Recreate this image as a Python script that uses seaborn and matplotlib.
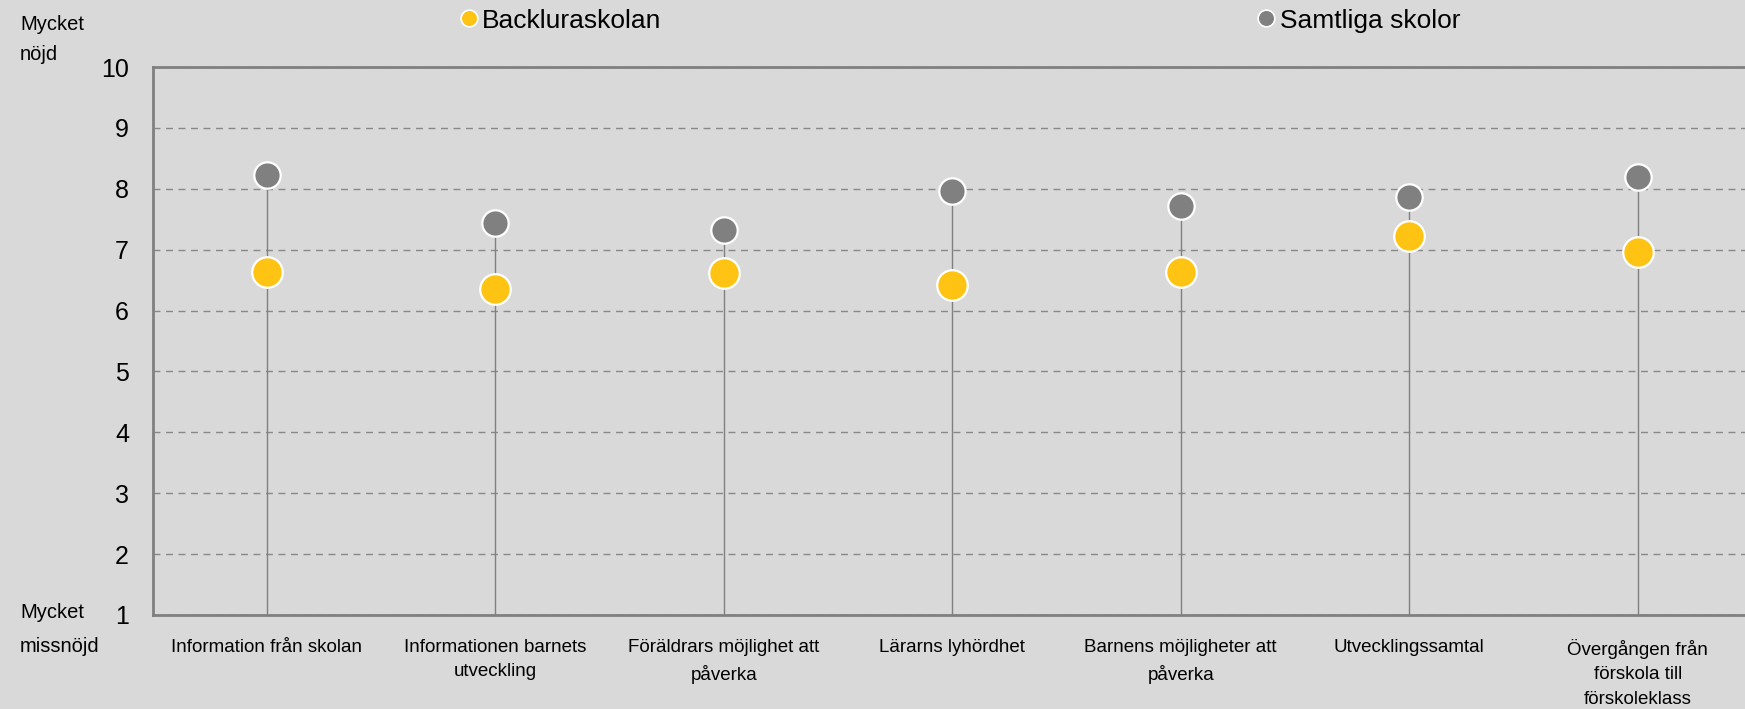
import pandas as pd
import seaborn as sns
import matplotlib.pyplot as plt
from matplotlib.lines import Line2D

# Data
categories = [
    "Information från skolan",
    "Informationen barnets\nutveckling",
    "Föräldrars möjlighet att\npåverka",
    "Lärarns lyhördhet",
    "Barnens möjligheter att\npåverka",
    "Utvecklingssamtal",
    "Övergången från\nförskola till\nförskoleklass",
]
backluraskolan = [6.64, 6.35, 6.61, 6.42, 6.64, 7.22, 6.96]
samtliga_skolor = [8.22, 7.43, 7.32, 7.97, 7.72, 7.86, 8.19]
y_ticks = [1, 2, 3, 4, 5, 6, 7, 8, 9, 10]

BG = "#d9d9d9"
YELLOW = "#ffc314"
GRAY = "#808080"

sns.set_theme(style="white")
plt.rcParams['font.family'] = ['Liberation Sans', 'DejaVu Sans']
plt.rcParams['text.color'] = 'black'

df = pd.DataFrame({
    "pos": list(range(len(categories))) * 2,
    "value": backluraskolan + samtliga_skolor,
    "serie": ["Backluraskolan"] * len(categories) + ["Samtliga skolor"] * len(categories),
})

fig = plt.figure(figsize=(17.45, 7.09), dpi=100, facecolor=BG)
ax = fig.add_axes([0.0874, 0.1326, 0.9166, 0.7729])
ax.set_facecolor(BG)

# stems from the bottom up to the "all schools" point
ax.vlines(range(len(categories)), 1, samtliga_skolor, color=GRAY, lw=1, zorder=2)

sns.scatterplot(data=df[df.serie == "Samtliga skolor"], x="pos", y="value",
                color=GRAY, s=19 ** 2, edgecolor="white", linewidth=1.6,
                zorder=3, ax=ax, legend=False)
sns.scatterplot(data=df[df.serie == "Backluraskolan"], x="pos", y="value",
                color=YELLOW, s=22 ** 2, edgecolor="white", linewidth=1.6,
                zorder=4, ax=ax, legend=False)

ax.set_xlim(-0.5, len(categories) - 0.5)
ax.set_ylim(1, 10)
ax.set_yticks(y_ticks)
ax.set_yticklabels([str(t) for t in y_ticks], fontsize=18)
ax.set_xticks(range(len(categories)))
ax.set_xticklabels(categories, fontsize=13.5, linespacing=1.6)
ax.tick_params(axis="y", length=0, pad=17, colors="black")
ax.tick_params(axis="x", length=0, pad=17, colors="black")
ax.set_xlabel("")
ax.set_ylabel("")

ax.yaxis.grid(True, color="#888888", linestyle=(0, (5, 4)), lw=1)
ax.set_axisbelow(True)
for side in ["left", "top", "bottom"]:
    ax.spines[side].set_color(GRAY)
    ax.spines[side].set_linewidth(2)
ax.spines["right"].set_visible(False)

fig.text(0.0115, 0.965, "Mycket", fontsize=14.5, va="center", ha="left")
fig.text(0.0115, 0.923, "nöjd", fontsize=14.5, va="center", ha="left")
fig.text(0.0115, 0.136, "Mycket", fontsize=14.5, va="center", ha="left")
fig.text(0.0115, 0.088, "missnöjd", fontsize=14.5, va="center", ha="left")

h1 = Line2D([], [], ls="", marker="o", markersize=12, markerfacecolor=YELLOW,
            markeredgecolor="white", markeredgewidth=1.2)
h2 = Line2D([], [], ls="", marker="o", markersize=12, markerfacecolor=GRAY,
            markeredgecolor="white", markeredgewidth=1.2)
fig.legend([h1], ["Backluraskolan"], loc="center left", bbox_to_anchor=(0.2545, 0.971),
           frameon=False, fontsize=19, handletextpad=0.1, handlelength=0.85, borderpad=0,
           labelcolor="black")
fig.legend([h2], ["Samtliga skolor"], loc="center left", bbox_to_anchor=(0.7115, 0.971),
           frameon=False, fontsize=19, handletextpad=0.1, handlelength=0.85, borderpad=0,
           labelcolor="black")

fig.savefig("out.png", dpi=100, facecolor=BG)
